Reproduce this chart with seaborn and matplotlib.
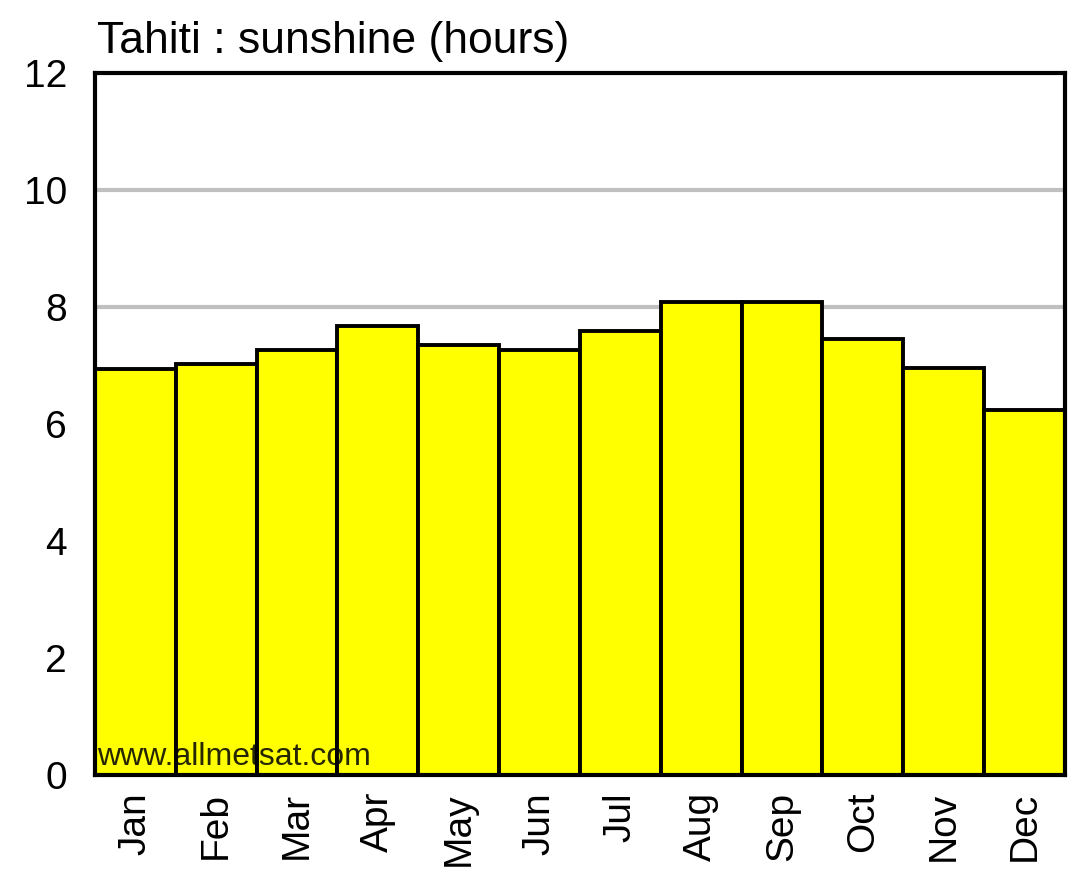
import matplotlib
matplotlib.use("Agg")
import matplotlib.pyplot as plt
import seaborn as sns
import pandas as pd

# monthly sunshine hours, Tahiti
months = ["Jan", "Feb", "Mar", "Apr", "May", "Jun",
          "Jul", "Aug", "Sep", "Oct", "Nov", "Dec"]
sunshine = [6.95, 7.03, 7.27, 7.68, 7.36, 7.27, 7.6, 8.08, 8.08, 7.45, 6.96, 6.24]
y_ticks = [0, 2, 4, 6, 8, 10, 12]

sns.set_style("white")
plt.rcParams["font.family"] = ["Liberation Sans Narrow", "Liberation Sans", "DejaVu Sans"]
plt.rcParams["text.color"] = "black"
plt.rcParams["xtick.color"] = "black"
plt.rcParams["ytick.color"] = "black"

df = pd.DataFrame({"month": months, "hours": sunshine})

fig = plt.figure(figsize=(10.79, 8.8), dpi=100)
ax = fig.add_axes([0.088, 0.119, 0.899, 0.798])

sns.barplot(data=df, x="month", y="hours", color="#ffff00", width=1.0,
            edgecolor="black", linewidth=2.8, saturation=1, ax=ax, zorder=2)

ax.set_xlim(-0.5, 11.5)
ax.set_ylim(0, 12)
ax.set_yticks(y_ticks)
ax.set_yticklabels([str(t) for t in y_ticks], fontsize=28)
ax.tick_params(axis="x", labelrotation=90, labelsize=28, length=0, pad=12)
ax.tick_params(axis="y", length=0, pad=20)
ax.set_xlabel("")
ax.set_ylabel("")

for y in y_ticks[1:-1]:
    ax.axhline(y, color="#c0c0c0", linewidth=3, zorder=0)

for s in ax.spines.values():
    s.set_linewidth(3)
    s.set_color("black")

ax.text(0.002, 0.005, "www.allmetsat.com", transform=ax.transAxes, fontsize=23,
        color="black", alpha=0.85, ha="left", va="bottom", zorder=5)

fig.text(0.09, 0.94, "Tahiti : sunshine (hours)", fontsize=32, ha="left", va="baseline")

fig.savefig("out.png", dpi=100)
